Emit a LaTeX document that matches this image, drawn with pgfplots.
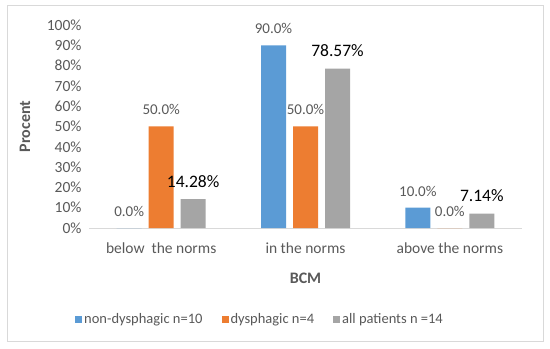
\documentclass[border=0pt]{standalone}
\usepackage{pgfplots}
\pgfplotsset{compat=1.18}
\usepackage{fontspec}
\setmainfont{Carlito}
\definecolor{cblue}{HTML}{5B9BD5}
\definecolor{corange}{HTML}{ED7D31}
\definecolor{cgray}{HTML}{A5A5A5}
\definecolor{ctext}{HTML}{595959}
\definecolor{cframe}{HTML}{D9D9D9}
\begin{document}
\begin{tikzpicture}[x=1bp,y=1bp]
\useasboundingbox (0,0) rectangle (550,348);
\draw[cframe, line width=1bp] (7,7) rectangle (543,342);
\begin{axis}[
  at={(89bp,120bp)}, anchor=south west,
  scale only axis, width=433bp, height=203bp,
  xmin=-0.5, xmax=2.5, ymin=0, ymax=100,
  ybar, bar width=25bp,
  axis x line*=bottom, axis y line*=left,
  x axis line style={cframe, line width=1bp, -},
  y axis line style={draw=none},
  xtick={0,1,2}, xticklabels={below\ \ the norms, in the norms, above the norms},
  xtick style={draw=none},
  ytick={0,10,...,100},
  yticklabel={\pgfmathprintnumber{\tick}\%},
  /pgf/number format/assume math mode=true,
  ticklabel style={font=\fontsize{15.5bp}{18bp}\selectfont, text=ctext},
  xticklabel style={yshift=-7bp},
  yticklabel style={xshift=-4bp},
  ytick style={draw=none},
  extra description/.code={
    \node[font=\fontsize{16bp}{19bp}\selectfont\bfseries, text=ctext, rotate=90] at (axis description cs:-0.148,0.5) {Procent};
    \node[font=\fontsize{16bp}{19bp}\selectfont\bfseries, text=ctext] at (axis description cs:0.5,-0.247) {BCM};
  },
  legend style={at={(axis description cs:0.395,-0.45)}, anchor=center, draw=none,
    font=\fontsize{14.5bp}{17bp}\selectfont, text=ctext, legend columns=3},
  legend image code/.code={\fill[#1] (0bp,-3.5bp) rectangle (7bp,3.5bp);},
  nodes near coords,
  every node near coord/.append style={font=\fontsize{15bp}{18bp}\selectfont, text=ctext, yshift=8bp},
]
\addplot[fill=cblue, draw=none, bar shift=-32bp,
  nodes near coords={\pgfmathprintnumber[fixed,fixed zerofill,precision=1]{\pgfplotspointmeta}\%}]
  coordinates {(0,0) (1,90) (2,10)};
\addplot[fill=corange, draw=none, bar shift=0bp,
  nodes near coords={\pgfmathprintnumber[fixed,fixed zerofill,precision=1]{\pgfplotspointmeta}\%}]
  coordinates {(0,50) (1,50) (2,0)};
\addplot[fill=cgray, draw=none, bar shift=32bp,
  nodes near coords={\pgfmathprintnumber[fixed,fixed zerofill,precision=2]{\pgfplotspointmeta}\%},
  every node near coord/.append style={font=\fontsize{17.5bp}{20bp}\selectfont, text=black}]
  coordinates {(0,14.28) (1,78.57) (2,7.14)};
\legend{non-dysphagic n=10\rule{17bp}{0pt}, dysphagic n=4\rule{17bp}{0pt}, all patients n =14}
\end{axis}
\end{tikzpicture}
\end{document}
